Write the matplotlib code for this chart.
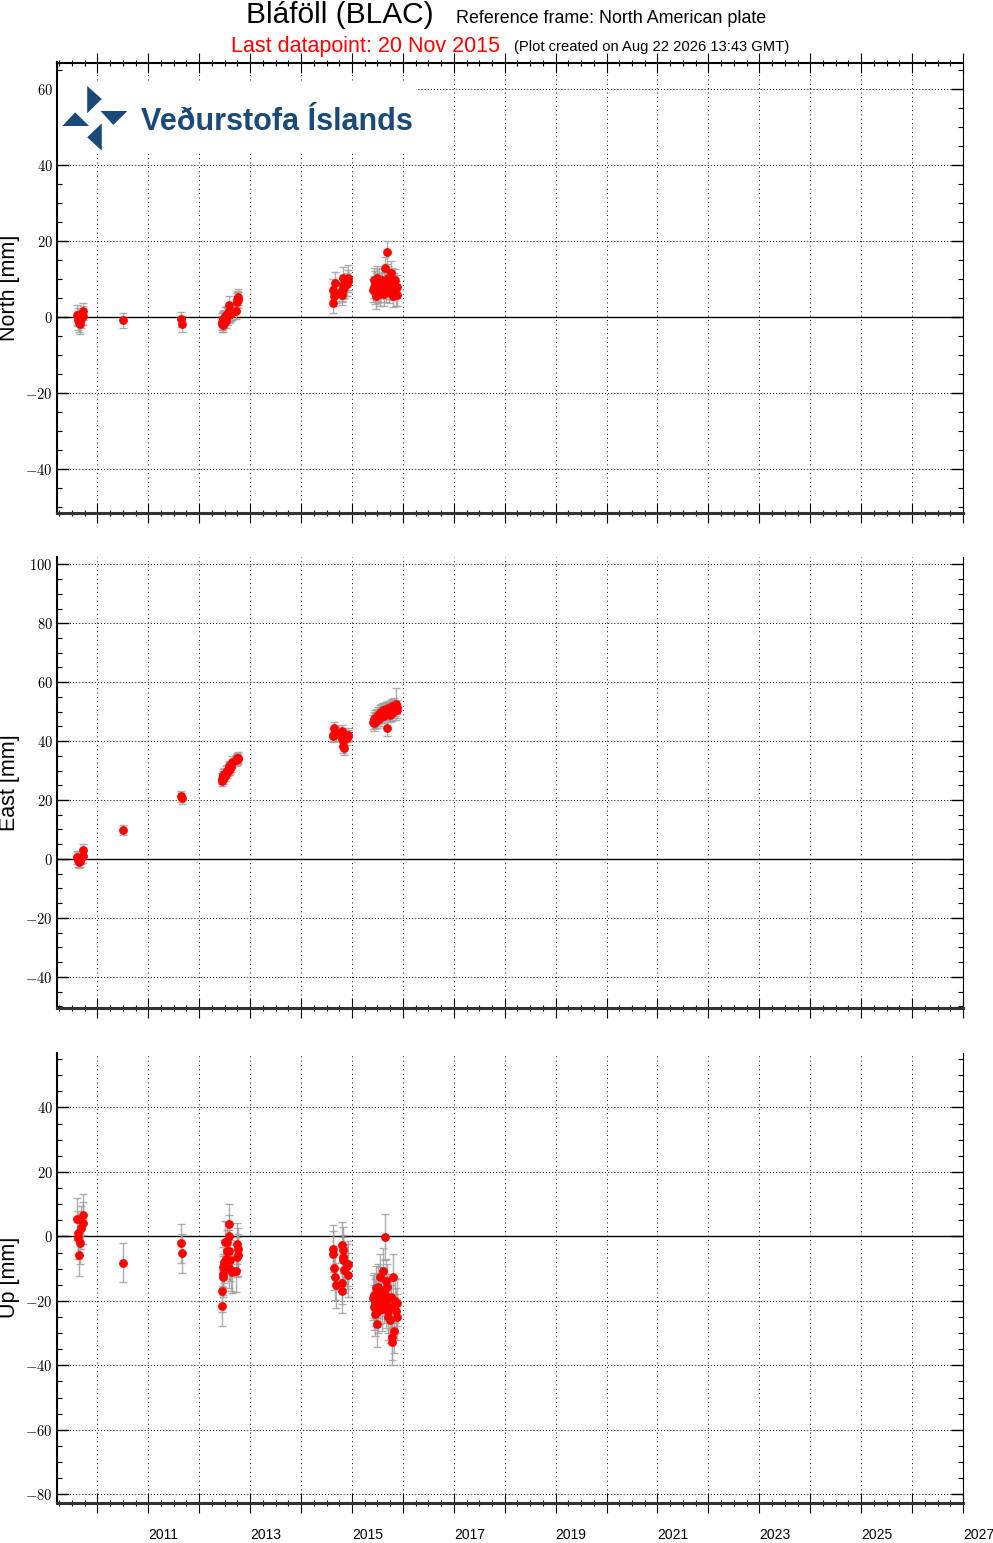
import matplotlib
matplotlib.use("Agg")
import numpy as np
import matplotlib.pyplot as plt
from matplotlib.ticker import MultipleLocator, FuncFormatter, FixedLocator
from matplotlib.patches import Polygon

plt.rcParams['font.family'] = ['Liberation Sans', 'DejaVu Sans']
plt.rcParams['mathtext.fontset'] = 'cm'

# ============================================================
# DATA (decimal years / mm)
# ============================================================

# one line per campaign
epochs = [
    2009.605, 2009.612, 2009.625, 2009.644, 2009.664, 2009.683, 2009.711, 2009.723,
    2010.50,
    2011.650, 2011.660,
    2012.452, 2012.454, 2012.460, 2012.462, 2012.473, 2012.486, 2012.512, 2012.520,
    2012.539, 2012.551, 2012.578, 2012.579, 2012.590, 2012.591, 2012.604, 2012.618,
    2012.643, 2012.722, 2012.736, 2012.747, 2012.761, 2012.767,
    2014.621, 2014.633, 2014.652, 2014.666, 2014.686, 2014.797, 2014.799, 2014.800,
    2014.817, 2014.829, 2014.830, 2014.843, 2014.896, 2014.927, 2014.928,
    2015.420, 2015.430, 2015.440, 2015.450, 2015.460, 2015.470, 2015.480, 2015.490,
    2015.500, 2015.510, 2015.520, 2015.530, 2015.545, 2015.560, 2015.575, 2015.590,
    2015.605, 2015.620, 2015.635, 2015.650, 2015.660, 2015.675, 2015.690, 2015.700,
    2015.715, 2015.730, 2015.745, 2015.760, 2015.775, 2015.785, 2015.795, 2015.810,
    2015.830, 2015.845, 2015.860, 2015.875, 2015.887,
]

north = [
    0.5, 0.0, -0.8, -1.5, -1.8, -0.5, 0.3, 1.5,
    -0.8,
    -0.6, -1.8,
    -1.8, -1.2, -0.6, -2.0, -0.9, -0.2, 0.4, -1.0,
    0.8, 0.2, 3.3, 1.2, 0.6, 1.5, 0.9, 1.0,
    1.3, 1.5, 4.0, 4.8, 5.3, 4.5,
    3.8, 7.1, 5.5, 8.9, 6.2, 7.1, 5.8, 6.7,
    10.2, 8.4, 7.5, 8.0, 8.6, 10.4, 9.5,
    7.1, 9.7, 8.0, 6.5, 9.2, 5.5, 8.8, 7.4,
    10.2, 6.8, 8.2, 9.5, 7.0, 6.2, 8.6, 9.7,
    7.8, 6.0, 8.9, 12.9, 9.0, 7.2, 17.1, 8.5,
    10.4, 6.6, 9.3, 8.0, 11.6, 7.5, 9.6, 5.5,
    8.4, 9.7, 6.2, 8.0, 5.8,
]

east = [
    0.6, 0.2, -0.5, -1.0, -0.6, 0.4, 0.9, 3.0,
    9.8,
    21.3, 20.6,
    26.5, 27.2, 28.0, 27.0, 28.5, 29.0, 28.2, 29.6,
    30.0, 29.2, 30.5, 31.0, 30.2, 31.4, 30.8, 31.2,
    33.0, 33.5, 34.2, 33.8, 34.4, 33.9,
    41.8, 42.2, 44.3, 43.0, 42.5, 43.4, 42.0, 40.6,
    38.3, 41.4, 40.0, 37.5, 41.0, 41.7, 42.2,
    46.5, 47.5, 46.0, 48.0, 47.0, 47.8, 46.8, 48.5,
    47.2, 49.0, 48.2, 47.6, 49.5, 48.8, 50.0, 49.2,
    50.5, 48.6, 50.2, 49.6, 51.0, 50.4, 44.4, 49.8,
    51.2, 50.6, 48.9, 51.5, 50.8, 49.4, 51.8, 50.1,
    52.0, 51.0, 52.5, 50.5, 51.6,
]

up = [
    5.3, 1.2, -0.6, -5.8, -1.9, 2.7, 4.1, 6.8,
    -8.1,
    -2.1, -5.2,
    -21.6, -16.9, -12.5, -11.8, -9.5, -7.8, -1.6, -7.0,
    -4.6, -1.8, 3.8, -9.8, 0.2, -4.5, -7.4, -10.5,
    -11.1, -10.8, -6.3, -2.2, -5.8, -3.9,
    -5.3, -3.8, -9.8, -12.7, -15.1, -2.6, -14.3, -16.9,
    -4.1, -6.4, -7.3, -10.4, -9.3, -8.4, -12.0,
    -19.0, -18.3, -22.0, -20.5, -24.0, -19.8, -16.0, -21.0,
    -27.2, -23.0, -15.6, -18.5, -12.6, -20.2, -16.7, -22.5,
    -10.6, -19.8, -17.7, -0.2, -13.9, -21.4, -15.6, -23.0,
    -25.0, -19.2, -26.0, -18.9, -22.0, -32.8, -31.3, -12.6,
    -29.2, -19.9, -23.0, -25.0, -20.5,
]

north_err = [
    2.6, 2.4, 2.5, 2.3, 2.6, 2.4, 2.5, 2.2,
    2.0,
    2.0, 2.1,
    2.0, 2.2, 2.1, 2.0, 2.3, 2.1, 2.2, 2.0,
    2.1, 2.2, 2.3, 2.0, 2.1, 2.2, 2.1, 2.0,
    2.2, 2.1, 2.3, 2.2, 2.0, 2.1,
    2.6, 2.8, 2.7, 2.9, 2.6, 2.8, 2.7, 2.6,
    3.0, 2.8, 2.7, 2.9, 3.0, 3.2, 2.8,
    3.0, 3.2, 2.9, 3.1, 3.0, 3.3, 2.9, 3.1,
    3.2, 3.0, 2.9, 3.1, 3.0, 3.2, 2.9, 3.1,
    3.0, 3.2, 3.1, 3.0, 2.9, 3.1, 3.0, 3.2,
    3.1, 2.9, 3.0, 3.2, 3.1, 3.0, 3.3, 2.9,
    3.1, 3.0, 3.2, 3.1, 3.0,
]

east_err = [
    2.2, 2.0, 2.1, 2.2, 2.0, 2.1, 2.2, 2.0,
    1.8,
    1.8, 1.8,
    1.8, 1.9, 1.8, 1.7, 1.9, 1.8, 1.8, 1.9,
    1.8, 1.7, 1.9, 1.8, 1.8, 1.9, 1.8, 1.7,
    1.9, 1.8, 1.8, 1.9, 1.8, 1.8,
    2.2, 2.3, 2.2, 2.1, 2.3, 2.2, 2.2, 2.3,
    2.2, 2.1, 2.2, 2.3, 2.2, 2.1, 2.2,
    2.4, 2.5, 2.6, 2.4, 2.5, 2.6, 2.5, 2.4,
    2.6, 2.5, 2.4, 2.5, 2.6, 2.4, 2.5, 2.6,
    2.5, 2.4, 2.6, 2.5, 2.4, 2.5, 2.6, 2.5,
    2.4, 2.6, 2.5, 2.4, 2.5, 2.6, 2.5, 2.4,
    2.6, 2.5, 5.5, 2.5, 2.4,
]

up_err = [
    6.5, 6.8, 6.4, 6.5, 6.7, 6.6, 6.5, 6.4,
    6.0,
    6.0, 6.1,
    6.2, 6.5, 6.3, 6.4, 6.2, 6.6, 6.4, 6.3,
    6.5, 6.2, 6.4, 6.3, 6.5, 6.6, 6.4, 6.3,
    6.5, 6.4, 6.2, 6.3, 6.5, 6.4,
    7.0, 7.2, 6.9, 7.1, 7.0, 7.2, 6.8, 7.0,
    7.1, 6.9, 7.0, 7.2, 7.1, 7.0, 6.9,
    7.0, 7.1, 6.9, 7.2, 7.0, 7.1, 6.9, 7.0,
    7.2, 7.1, 7.0, 6.9, 7.1, 7.0, 7.2, 6.9,
    7.0, 7.1, 7.0, 7.2, 6.9, 7.0, 7.1, 7.0,
    7.2, 6.9, 7.0, 7.1, 7.0, 7.2, 7.1, 7.0,
    7.0, 6.9, 7.1, 7.0, 7.2,
]

components = ['North [mm]', 'East [mm]', 'Up [mm]']
year_ticks = list(range(2010, 2028))
year_labels = [str(y) if y % 2 == 1 else '' for y in year_ticks]

STATION = 'Bláföll (BLAC)'
REF_FRAME = 'Reference frame: North American plate'
LAST_POINT = 'Last datapoint: 20 Nov 2015'
CREATED = '(Plot created on Aug 22 2026 13:43 GMT)'
LOGO_TEXT = 'Veðurstofa Íslands'

# ============================================================
# LAYOUT (pixels of the 993 x 1543 output)
# ============================================================

W, H = 993, 1543
LEFT, RIGHT = 57, 963
panels = [  # (top px, bottom px, ylim)
    (62.5, 513.0, (-51.6, 67.05)),
    (557.3, 1008.0, (-50.6, 102.4)),
    (1052.7, 1502.7, (-82.6, 57.0)),
]
XLIM = (2009.207, 2027.0)

fig = plt.figure(figsize=(W / 100, H / 100), dpi=100)

series = [(north, north_err), (east, east_err), (up, up_err)]
axes = []
for i, (top, bot, ylim) in enumerate(panels):
    ax = fig.add_axes([LEFT / W, 1 - bot / H, (RIGHT - LEFT) / W, (bot - top) / H])
    axes.append(ax)
    vals, errs = series[i]

    ax.errorbar(epochs, vals, yerr=errs, fmt='none', ecolor='#a0a0a0',
                elinewidth=1.0, capsize=3, capthick=1.0, alpha=0.85, zorder=2)
    ax.plot(epochs, vals, 'o', color='red', mec='red', ms=5.3, zorder=3)
    ax.axhline(0, color='black', lw=1.0, zorder=1.5)

    ax.set_xlim(*XLIM)
    ax.set_ylim(*ylim)

    ax.xaxis.set_major_locator(FixedLocator(year_ticks))
    ax.xaxis.set_minor_locator(MultipleLocator(0.25))
    ax.yaxis.set_major_locator(MultipleLocator(20))
    ax.yaxis.set_minor_locator(MultipleLocator(5))
    ax.yaxis.set_major_formatter(FuncFormatter(lambda v, p: '$%d$' % v))

    # horizontal grid dots are denser than the vertical ones
    ax.yaxis.grid(True, which='major', color='black', lw=0.7, linestyle=(0, (1, 2.2)))
    ax.xaxis.grid(True, which='major', color='black', lw=0.7, linestyle=(0, (1, 3.5)))
    ax.set_axisbelow(True)

    ax.tick_params(axis='y', which='both', direction='in', left=True, right=True,
                   labelsize=10.5, pad=3)
    ax.tick_params(axis='y', which='major', length=8.6, width=1.0)
    ax.tick_params(axis='y', which='minor', length=3.6, width=0.8)
    ax.tick_params(axis='x', which='both', direction='inout', bottom=True,
                   top=(i == 0), labelsize=10, pad=11)
    ax.tick_params(axis='x', which='major', length=14.4, width=0.8)
    ax.tick_params(axis='x', which='minor', length=4.0, width=0.8)

    ax.spines['left'].set_linewidth(1.5)
    ax.spines['right'].set_linewidth(0.8)
    ax.spines['bottom'].set_linewidth(2.2)
    ax.spines['bottom'].set_color('#333333')
    if i == 0:
        ax.spines['top'].set_linewidth(1.5)
    else:
        ax.spines['top'].set_visible(False)

    if i == 2:
        ax.set_xticklabels(year_labels, ha='left')
    else:
        ax.set_xticklabels([])

    ax.set_ylabel(components[i], fontsize=15.5)
    ax.yaxis.set_label_coords((20 - LEFT) / (RIGHT - LEFT), 0.5)

# ============================================================
# TITLES
# ============================================================

fig.text(246 / W, 1 - 23.3 / H, STATION, fontsize=21.5, ha='left', va='baseline')
fig.text(456 / W, 1 - 22.7 / H, REF_FRAME, fontsize=12.9, ha='left', va='baseline')
fig.text(231 / W, 1 - 52.3 / H, LAST_POINT, fontsize=15.5, color='red',
         ha='left', va='baseline')
fig.text(514 / W, 1 - 51.0 / H, CREATED, fontsize=10.6, ha='left', va='baseline')

# ============================================================
# LOGO (white box on top of the North panel)
# ============================================================

LOGO_BLUE = '#1a4a78'
logo = fig.add_axes([58 / W, 1 - 152 / H, (416 - 58) / W, (152 - 83) / H])
logo.set_xlim(58, 416)
logo.set_ylim(152, 83)
logo.set_facecolor('white')
logo.set_xticks([])
logo.set_yticks([])
for s in logo.spines.values():
    s.set_visible(False)

triangles = [
    [(87.2, 86.0), (87.2, 113.3), (101.8, 99.0)],
    [(100.6, 111.0), (127.3, 111.0), (113.3, 125.0)],
    [(62.4, 126.0), (89.1, 126.0), (75.1, 112.3)],
    [(101.8, 123.3), (101.8, 150.7), (87.2, 137.3)],
]
for tri in triangles:
    logo.add_patch(Polygon(tri, closed=True, color=LOGO_BLUE, lw=0))

logo.text(141, 130, LOGO_TEXT, fontsize=22, fontweight='bold', color=LOGO_BLUE,
          ha='left', va='baseline')

fig.savefig('out.png', dpi=100)
